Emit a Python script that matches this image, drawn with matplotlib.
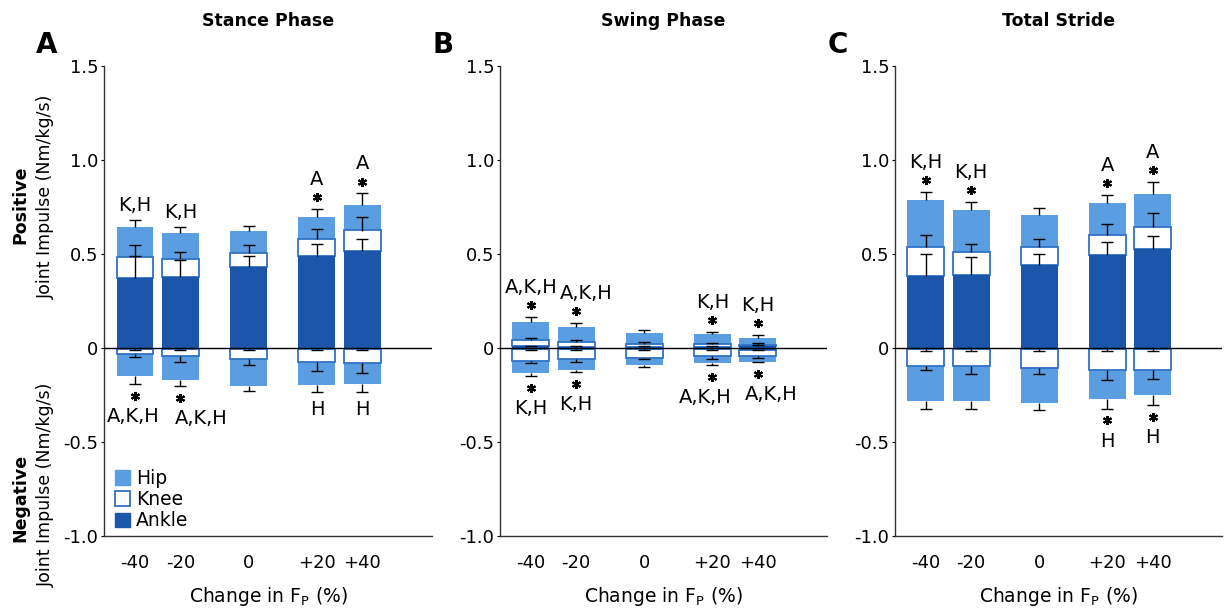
import numpy as np
import matplotlib
matplotlib.use('Agg')
import matplotlib.pyplot as plt
from matplotlib.patches import Patch
from matplotlib.transforms import offset_copy

plt.rcParams['font.family'] = ['DejaVu Sans']

### categorias (cambio en Fp)
categorias = ['-40', '-20', '0', '+20', '+40']

### Stance phase (A)
st_ankle_pos = [0.370, 0.378, 0.430, 0.487, 0.516]
st_knee_pos = [0.114, 0.095, 0.075, 0.091, 0.109]
st_hip_pos = [0.161, 0.140, 0.115, 0.117, 0.137]
st_ankle_pos_sd = [0.122, 0.092, 0.060, 0.068, 0.066]
st_knee_pos_sd = [0.064, 0.037, 0.041, 0.055, 0.071]
st_hip_pos_sd = [0.035, 0.031, 0.030, 0.043, 0.060]
st_ankle_neg = [-0.005, -0.005, -0.005, -0.005, -0.005]
st_knee_neg = [-0.025, -0.035, -0.052, -0.069, -0.073]
st_hip_neg = [-0.120, -0.128, -0.143, -0.121, -0.112]
st_ankle_neg_sd = [0.008, 0.008, 0.008, 0.008, 0.008]
st_knee_neg_sd = [0.020, 0.032, 0.035, 0.049, 0.055]
st_hip_neg_sd = [0.040, 0.032, 0.030, 0.040, 0.045]
st_sig_top = ['K,H', 'K,H', '', 'A', 'A']
st_star_top = [False, False, False, True, True]
st_sig_bot = ['A,K,H', 'A,K,H', '', 'H', 'H']
st_star_bot = [True, True, False, False, False]

### Swing phase (B)
sw_ankle_pos = [0.008, 0.006, 0.005, 0.006, 0.010]
sw_knee_pos = [0.035, 0.028, 0.018, 0.017, 0.008]
sw_hip_pos = [0.094, 0.078, 0.057, 0.052, 0.037]
sw_ankle_pos_sd = [0.005, 0.005, 0.005, 0.005, 0.005]
sw_knee_pos_sd = [0.010, 0.009, 0.007, 0.004, 0.009]
sw_hip_pos_sd = [0.027, 0.022, 0.014, 0.011, 0.015]
sw_ankle_neg = [-0.006, -0.006, -0.006, -0.006, -0.008]
sw_knee_neg = [-0.062, -0.051, -0.045, -0.039, -0.033]
sw_hip_neg = [-0.065, -0.060, -0.041, -0.037, -0.031]
sw_ankle_neg_sd = [0.005, 0.005, 0.005, 0.005, 0.005]
sw_knee_neg_sd = [0.010, 0.015, 0.010, 0.012, 0.010]
sw_hip_neg_sd = [0.015, 0.010, 0.010, 0.010, 0.004]
sw_sig_top = ['A,K,H', 'A,K,H', '', 'K,H', 'K,H']
sw_star_top = [True, True, False, True, True]
sw_sig_bot = ['K,H', 'K,H', '', 'A,K,H', 'A,K,H']
sw_star_bot = [True, True, False, True, True]

### Total stride (C)
to_ankle_pos = [0.383, 0.390, 0.440, 0.495, 0.525]
to_knee_pos = [0.152, 0.120, 0.095, 0.105, 0.120]
to_hip_pos = [0.252, 0.222, 0.173, 0.173, 0.175]
to_ankle_pos_sd = [0.116, 0.092, 0.062, 0.069, 0.071]
to_knee_pos_sd = [0.064, 0.043, 0.043, 0.058, 0.072]
to_hip_pos_sd = [0.045, 0.047, 0.038, 0.042, 0.063]
to_ankle_neg = [-0.005, -0.005, -0.005, -0.005, -0.005]
to_knee_neg = [-0.089, -0.093, -0.099, -0.114, -0.110]
to_hip_neg = [-0.187, -0.183, -0.189, -0.153, -0.137]
to_ankle_neg_sd = [0.010, 0.010, 0.010, 0.010, 0.010]
to_knee_neg_sd = [0.025, 0.041, 0.035, 0.051, 0.051]
to_hip_neg_sd = [0.041, 0.041, 0.035, 0.050, 0.051]
to_sig_top = ['K,H', 'K,H', '', 'A', 'A']
to_star_top = [True, True, False, True, True]
to_sig_bot = ['', '', '', 'H', 'H']
to_star_bot = [False, False, False, True, True]

### colores
c_hip = '#5a9de0'
c_ankle = '#1b56ab'
c_knee_edge = '#3172c4'

## layout
xpos = np.array([1, 2, 3.5, 5, 6])
ancho = 0.81
fs_tick = 13
fs_sig = 14


def stack(ax, ankle, knee, hip, sd_a, sd_k, sd_h, signo):
    ankle = np.array(ankle)
    knee = np.array(knee)
    hip = np.array(hip)
    ax.bar(xpos, hip, ancho, bottom=ankle + knee, color=c_hip, zorder=2)
    ax.bar(xpos, knee, ancho, bottom=ankle, color='white', edgecolor=c_knee_edge,
           linewidth=1.3, zorder=2)
    ax.bar(xpos, ankle, ancho, color=c_ankle, zorder=2)
    tops = [ankle, ankle + knee, ankle + knee + hip]
    caps = []
    for t, sd in zip(tops, [sd_a, sd_k, sd_h]):
        c = t + signo * np.array(sd)
        ax.vlines(xpos, t, c, color='k', lw=1, zorder=4)
        ax.plot(xpos, c, ls='none', marker='_', ms=9, mew=1, color='k', zorder=4)
        caps.append(c)
    return caps[-1]


def signif(ax, caps, textos, estrellas, signo, dx):
    tr_star = offset_copy(ax.transData, fig=ax.figure, x=0, y=8.6 * signo, units='points')
    for x, c, t, s, d in zip(xpos, caps, textos, estrellas, dx):
        if s:
            ax.plot(x, c, ls='none', marker=(6, 2, 0), ms=6.5, mew=1.5, color='k',
                    transform=tr_star, zorder=5, clip_on=False)
        if t:
            if signo > 0:
                off = 17.3 if s else 6.5
            else:
                off = -27.4 if s else -16.6
            ax.annotate(t, (x, c), xytext=(d, off), textcoords='offset points',
                        ha='center', va='baseline', fontsize=fs_sig)


fig = plt.figure(figsize=(12.24, 6.10), dpi=100)

paneles = [
    ('Stance Phase', 'A', 104, 328,
     (st_ankle_pos, st_knee_pos, st_hip_pos, st_ankle_pos_sd, st_knee_pos_sd, st_hip_pos_sd),
     (st_ankle_neg, st_knee_neg, st_hip_neg, st_ankle_neg_sd, st_knee_neg_sd, st_hip_neg_sd),
     st_sig_top, st_star_top, st_sig_bot, st_star_bot, [0, 0, 0, 0, 0], [-1.5, 15, 0, 0, 0]),
    ('Swing Phase', 'B', 500, 327,
     (sw_ankle_pos, sw_knee_pos, sw_hip_pos, sw_ankle_pos_sd, sw_knee_pos_sd, sw_hip_pos_sd),
     (sw_ankle_neg, sw_knee_neg, sw_hip_neg, sw_ankle_neg_sd, sw_knee_neg_sd, sw_hip_neg_sd),
     sw_sig_top, sw_star_top, sw_sig_bot, sw_star_bot, [0, 7, 0, 0, 0], [0, 0, 0, -5, 9.5]),
    ('Total Stride', 'C', 895, 327,
     (to_ankle_pos, to_knee_pos, to_hip_pos, to_ankle_pos_sd, to_knee_pos_sd, to_hip_pos_sd),
     (to_ankle_neg, to_knee_neg, to_hip_neg, to_ankle_neg_sd, to_knee_neg_sd, to_hip_neg_sd),
     to_sig_top, to_star_top, to_sig_bot, to_star_bot, [0, 0, 0, 0, 0], [0, 0, 0, 0, 0]),
]

W, H = 1224., 610.
y_bot, y_top = 536., 66.

for titulo, letra, x0, w, pos, neg, stop, sttop, sbot, stbot, dxt, dxb in paneles:
    ax = fig.add_axes([x0 / W, 1 - y_bot / H, w / W, (y_bot - y_top) / H])
    cap_top = stack(ax, *pos, 1)
    cap_bot = stack(ax, *neg, -1)
    ax.axhline(0, color='k', lw=1, zorder=3)
    signif(ax, cap_top, stop, sttop, 1, dxt)
    signif(ax, cap_bot, sbot, stbot, -1, dxb)

    ax.set_xlim(0.32, 7.53)
    ax.set_ylim(-1.0, 1.5)
    ax.set_yticks([-1.0, -0.5, 0, 0.5, 1.0, 1.5])
    ax.set_yticklabels(['-1.0', '-0.5', '0', '0.5', '1.0', '1.5'], fontsize=fs_tick)
    ax.set_xticks(xpos)
    ax.set_xticklabels(categorias, fontsize=fs_tick)
    ax.tick_params(axis='x', length=0, pad=13)
    ax.tick_params(axis='y', length=2.5, width=0.8, pad=1.5)
    ax.spines['top'].set_visible(False)
    ax.spines['right'].set_visible(False)
    for s in ['left', 'bottom']:
        ax.spines[s].set_color('#333333')
        ax.spines[s].set_linewidth(1)
    ax.set_xlabel(r'Change in F$_\mathregular{P}$ (%)', fontsize=13.5, labelpad=9)

    cx = (x0 + w / 2) / W
    fig.text(cx, 1 - 21 / H, titulo, ha='center', va='center', fontsize=12.5, fontweight='bold')
    fig.text((x0 - 57) / W, 1 - 45 / H, letra, ha='center', va='center', fontsize=20, fontweight='bold')

    if letra == 'A':
        handles = [Patch(facecolor=c_hip, edgecolor=c_hip),
                   Patch(facecolor='white', edgecolor=c_knee_edge, linewidth=1.3),
                   Patch(facecolor=c_ankle, edgecolor=c_ankle)]
        ax.legend(handles, ['Hip', 'Knee', 'Ankle'], loc='lower left',
                  bbox_to_anchor=(0.015, 0.0), frameon=False, fontsize=13.5,
                  handlelength=0.8, handleheight=0.8, handletextpad=0.35,
                  labelspacing=0.12, borderpad=0.1, borderaxespad=0.2)

## etiquetas del eje y
fig.text(20 / W, 1 - 205 / H, 'Positive', rotation=90, ha='center', va='center',
         fontsize=12.5, fontweight='bold')
fig.text(46 / W, 1 - 197 / H, 'Joint Impulse (Nm/kg/s)', rotation=90, ha='center',
         va='center', fontsize=12.5)
fig.text(20 / W, 1 - 498 / H, 'Negative', rotation=90, ha='center', va='center',
         fontsize=12.5, fontweight='bold')
fig.text(46 / W, 1 - 485 / H, 'Joint Impulse (Nm/kg/s)', rotation=90, ha='center',
         va='center', fontsize=12.5)

fig.savefig('out.png', dpi=100)
